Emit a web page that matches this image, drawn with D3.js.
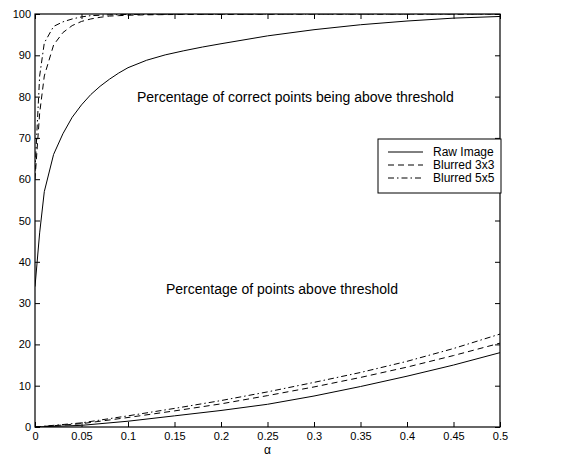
<!DOCTYPE html>
<html>
<head>
<meta charset="utf-8">
<script src="https://cdn.jsdelivr.net/npm/d3@7"></script>
<style>
  body { margin: 0; background: #fff; }
  svg { font-family: "Liberation Sans", Arial, Helvetica, sans-serif; }
</style>
</head>
<body>
<div id="chart"></div>
<script>
// Data
const alphaHi = [0, 0.005, 0.01, 0.02, 0.03, 0.04, 0.05, 0.06, 0.07, 0.08, 0.09, 0.10, 0.12, 0.14, 0.16, 0.18, 0.20, 0.25, 0.30, 0.35, 0.40, 0.45, 0.50];
const rawCorrect   = [34, 47, 57, 66, 71, 75, 78, 80.5, 82.5, 84.2, 85.7, 87, 88.8, 90.1, 91.1, 92, 92.8, 94.7, 96.2, 97.4, 98.3, 99, 99.4];
const blur3Correct = [60, 76, 85, 92.5, 95.5, 97.2, 98.2, 98.8, 99.2, 99.5, 99.6, 99.7, 99.8, 99.85, 99.9, 99.9, 99.9, 99.95, 100, 100, 100, 100, 100];
const blur5Correct = [62, 85, 93, 97, 98.1, 98.8, 99.3, 99.6, 99.7, 99.8, 99.85, 99.9, 99.9, 99.95, 100, 100, 100, 100, 100, 100, 100, 100, 100];

const alphaLo = [0, 0.05, 0.10, 0.15, 0.20, 0.25, 0.30, 0.35, 0.40, 0.45, 0.50];
const rawAbove   = [0, 0.4, 1.4, 2.7, 4.0, 5.5, 7.5, 9.8, 12.3, 15.0, 18.0];
const blur3Above = [0, 0.8, 2.3, 3.9, 5.6, 7.6, 9.7, 12.0, 14.5, 17.3, 20.3];
const blur5Above = [0, 1.0, 2.7, 4.5, 6.4, 8.5, 10.8, 13.2, 15.9, 19.0, 22.5];

const seriesNames = ['Raw Image', 'Blurred 3x3', 'Blurred 5x5'];
const xTicks = [0, 0.05, 0.1, 0.15, 0.2, 0.25, 0.3, 0.35, 0.4, 0.45, 0.5];
const yTicks = [0, 10, 20, 30, 40, 50, 60, 70, 80, 90, 100];

const W = 584, H = 458;
const mLeft = 35, mRight = 500, mTop = 14, mBottom = 427;

const dashes = [null, '6,4', '6,3,1.5,3'];

const svg = d3.select('#chart').append('svg')
    .attr('width', W)
    .attr('height', H);

const x = d3.scaleLinear().domain([0, 0.5]).range([mLeft, mRight]);
const y = d3.scaleLinear().domain([0, 100]).range([mBottom, mTop]);

svg.append('clipPath').attr('id', 'plotClip')
    .append('rect')
    .attr('x', mLeft).attr('y', mTop)
    .attr('width', mRight - mLeft).attr('height', mBottom - mTop);

// Axes with inward ticks (box style)
const tickLen = 5;
svg.append('g')
    .attr('transform', `translate(0,${mBottom})`)
    .call(d3.axisBottom(x).tickValues(xTicks).tickSizeInner(-tickLen).tickSizeOuter(0)
        .tickPadding(5).tickFormat(d3.format('')))
    .call(g => g.select('.domain').remove());
svg.append('g')
    .attr('transform', `translate(0,${mTop})`)
    .call(d3.axisTop(x).tickValues(xTicks).tickSizeInner(-tickLen).tickSizeOuter(0).tickFormat(''))
    .call(g => g.select('.domain').remove());
svg.append('g')
    .attr('transform', `translate(${mLeft},0)`)
    .call(d3.axisLeft(y).tickValues(yTicks).tickSizeInner(-tickLen).tickSizeOuter(0).tickPadding(4))
    .call(g => g.select('.domain').remove());
svg.append('g')
    .attr('transform', `translate(${mRight},0)`)
    .call(d3.axisRight(y).tickValues(yTicks).tickSizeInner(-tickLen).tickSizeOuter(0).tickFormat(''))
    .call(g => g.select('.domain').remove());

svg.selectAll('.tick text')
    .attr('font-size', 11)
    .attr('fill', '#000')
    .attr('font-family', '"Liberation Sans", Arial, sans-serif');
svg.selectAll('.tick line').attr('stroke', '#000');

// Curves
const line = d3.line().x(d => x(d[0])).y(d => y(d[1]));
const plot = svg.append('g').attr('clip-path', 'url(#plotClip)');

const hiSeries = [rawCorrect, blur3Correct, blur5Correct];
const loSeries = [rawAbove, blur3Above, blur5Above];

hiSeries.forEach((vals, i) => {
    plot.append('path')
        .datum(alphaHi.map((a, j) => [a, vals[j]]))
        .attr('d', line)
        .attr('fill', 'none')
        .attr('stroke', '#000')
        .attr('stroke-width', 1)
        .attr('stroke-dasharray', dashes[i]);
});
loSeries.forEach((vals, i) => {
    plot.append('path')
        .datum(alphaLo.map((a, j) => [a, vals[j]]))
        .attr('d', line)
        .attr('fill', 'none')
        .attr('stroke', '#000')
        .attr('stroke-width', 1)
        .attr('stroke-dasharray', dashes[i]);
});

// Axes box
svg.append('rect')
    .attr('x', mLeft).attr('y', mTop)
    .attr('width', mRight - mLeft).attr('height', mBottom - mTop)
    .attr('fill', 'none')
    .attr('stroke', '#000')
    .attr('stroke-width', 1.2);

// Annotations
svg.append('text')
    .attr('x', 137).attr('y', 102)
    .attr('font-size', 14)
    .text('Percentage of correct points being above threshold');
svg.append('text')
    .attr('x', 166).attr('y', 294)
    .attr('font-size', 14)
    .text('Percentage of points above threshold');

// x label
svg.append('text')
    .attr('x', (mLeft + mRight) / 2).attr('y', 454)
    .attr('text-anchor', 'middle')
    .attr('font-size', 12)
    .text('α');

// Legend
const legend = svg.append('g');
legend.append('rect')
    .attr('x', 378).attr('y', 139)
    .attr('width', 123).attr('height', 54)
    .attr('fill', '#fff')
    .attr('stroke', '#000')
    .attr('stroke-width', 1);
seriesNames.forEach((name, i) => {
    const ly = 152 + i * 13;
    legend.append('line')
        .attr('x1', 388).attr('x2', 423)
        .attr('y1', ly).attr('y2', ly)
        .attr('stroke', '#000')
        .attr('stroke-width', 1)
        .attr('stroke-dasharray', dashes[i]);
    legend.append('text')
        .attr('x', 433).attr('y', ly + 4)
        .attr('font-size', 12)
        .text(name);
});
</script>
</body>
</html>
